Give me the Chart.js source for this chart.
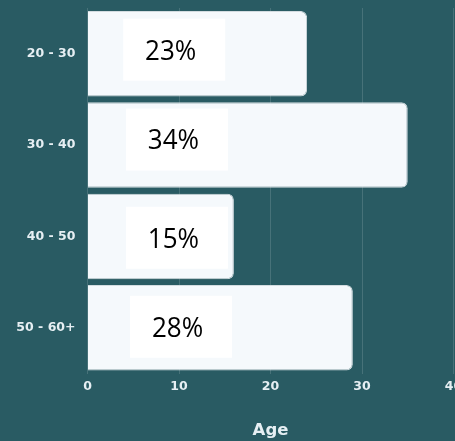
<!DOCTYPE html>
<html><head><meta charset="utf-8">
<script src="https://cdn.jsdelivr.net/npm/chart.js@4.4.1/dist/chart.umd.min.js"></script>
<style>html,body{margin:0;padding:0;background:#295b63;overflow:hidden}
#wrap{width:455px;height:441px;position:relative}</style>
</head><body><div id="wrap"><canvas id="c" width="455" height="441"></canvas></div>
<script>
const categories = ['20 - 30', '30 - 40', '40 - 50', '50 - 60+'];
const values = [24, 35, 16, 29];
const percentLabels = ['23%', '34%', '15%', '28%'];
const xTicks = [0, 10, 20, 30, 40];
const axisTitle = 'Age';

const labelColor = '#e6eff3';

const boxPlugin = {
  id: 'pctBoxes',
  afterDatasetsDraw(chart, args, opts) {
    const ctx = chart.ctx;
    const xs = chart.scales.x;
    const meta = chart.getDatasetMeta(0);
    meta.data.forEach((bar, i) => {
      const st = opts.styles[i];
      const left = xs.getPixelForValue(st.from);
      const cy = bar.y + st.dy;
      ctx.save();
      ctx.fillStyle = '#ffffff';
      ctx.fillRect(left, cy - opts.height / 2, opts.width, opts.height);
      ctx.fillStyle = '#000000';
      ctx.font = opts.fontSize + 'px "Open Sans", sans-serif';
      ctx.textAlign = 'center';
      ctx.textBaseline = 'alphabetic';
      const digitH = 0.714 * opts.fontSize * opts.stretch;
      ctx.translate(left + opts.width / 2 + opts.textDx, cy + digitH / 2);
      ctx.scale(1, opts.stretch);
      ctx.fillText(percentLabels[i], 0, 0);
      ctx.restore();
    });
  }
};

new Chart(document.getElementById('c'), {
  type: 'bar',
  data: {
    labels: categories,
    datasets: [{
      data: values,
      backgroundColor: '#f5f9fc',
      borderColor: '#d3dce0',
      borderWidth: 1,
      borderRadius: 6,
      borderSkipped: 'start',
      barPercentage: 0.935,
      categoryPercentage: 1
    }]
  },
  options: {
    indexAxis: 'y',
    responsive: false,
    animation: false,
    devicePixelRatio: 1,
    layout: { padding: { top: 8, right: 1.5, bottom: 0, left: 0 } },
    plugins: {
      legend: { display: false },
      tooltip: { enabled: false },
      pctBoxes: {
        width: 102, height: 62, fontSize: 26, stretch: 1.06, textDx: -3.5,
        styles: [
          { from: 3.9, dy: -4 },
          { from: 4.2, dy: -5.5 },
          { from: 4.2, dy: 1.3 },
          { from: 4.65, dy: -1 }
        ]
      }
    },
    scales: {
      x: {
        min: 0, max: 40,
        afterBuildTicks: s => { s.ticks = xTicks.map(v => ({ value: v })); },
        afterFit: s => { s.paddingRight = 0; s.paddingLeft = 0; s.height = 67.5; },
        ticks: { color: labelColor, font: { family: 'DejaVu Sans', weight: 'bold', size: 12.5 }, padding: 6, maxRotation: 0 },
        grid: { color: 'rgba(255,255,255,0.14)', drawTicks: false, lineWidth: 1 },
        border: { display: false },
        title: { display: true, text: axisTitle, color: labelColor, font: { family: 'DejaVu Sans', weight: 'bold', size: 16.5 }, padding: { top: 0, bottom: 0 } }
      },
      y: {
        afterFit: s => { s.width = 87.5; s.paddingTop = 0; s.paddingBottom = 0; },
        ticks: { color: labelColor, font: { family: 'DejaVu Sans', weight: 'bold', size: 12.5 }, padding: 12 },
        grid: { display: false, drawTicks: false },
        border: { display: false }
      }
    }
  },
  plugins: [boxPlugin]
});
</script>
</body></html>
